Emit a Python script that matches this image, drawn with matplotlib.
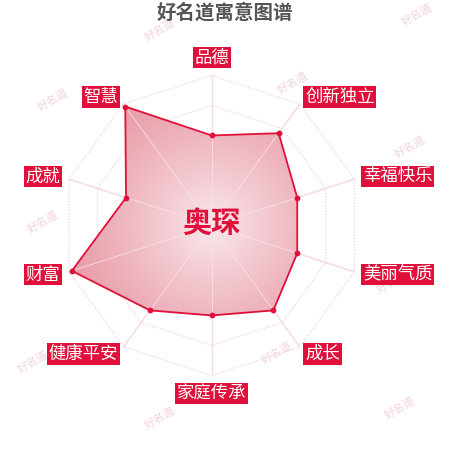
import numpy as np
import matplotlib
matplotlib.use("Agg")
import matplotlib.pyplot as plt
from matplotlib.colors import LinearSegmentedColormap
from matplotlib.patches import Polygon

plt.rcParams['font.family'] = ['Noto Sans CJK SC', 'DejaVu Sans']

# 数据
categories = ['品德', '创新独立', '幸福快乐', '美丽气质', '成长',
              '家庭传承', '健康平安', '财富', '成就', '智慧']
values = [60, 76, 60, 60, 70, 60, 70, 98, 60, 98]
name = '奥琛'
title = '好名道寓意图谱'
watermark = '好名道'
rings = [20, 40, 60, 80, 100]

RED = '#e0103a'
n = len(categories)
theta = np.pi / 2 - np.arange(n) * 2 * np.pi / n
vals = np.array(values, dtype=float)

fig = plt.figure(figsize=(4.5, 4.5), dpi=100)
ax = fig.add_axes([0, 0, 1, 1])
ax.set_xlim(-141.1, 158.9)
ax.set_ylim(-149.7, 150.3)
ax.set_aspect('equal')
ax.axis('off')

# 网格
for r in rings:
    gx = np.append(r * np.cos(theta), r * np.cos(theta[0]))
    gy = np.append(r * np.sin(theta), r * np.sin(theta[0]))
    ax.plot(gx, gy, color='#efc6cd', lw=0.8, ls=':', zorder=1)
for t in theta:
    ax.plot([0, 100 * np.cos(t)], [0, 100 * np.sin(t)], color='#f1d3d8', lw=1, zorder=1)

# 渐变填充
px = vals * np.cos(theta)
py = vals * np.sin(theta)
cmap = LinearSegmentedColormap.from_list('pk', [(0, '#f8e9ec'), (0.3, '#f4cdd4'),
                                                (0.65, '#eeb2bc'), (1, '#e899a6')])
g = np.linspace(-100, 100, 400)
X, Y = np.meshgrid(g, g)
R = np.clip(np.hypot(X, Y) / 100, 0, 1)
im = ax.imshow(R, extent=(-100, 100, -100, 100), origin='lower', cmap=cmap,
               vmin=0, vmax=1, zorder=2, interpolation='bilinear')
poly = Polygon(np.column_stack([px, py]), closed=True, fc='none', ec='none')
ax.add_patch(poly)
im.set_clip_path(poly)

for t in theta:
    ax.plot([0, 100 * np.cos(t)], [0, 100 * np.sin(t)], color='#f9e4e8', lw=0.8,
            alpha=0.7, zorder=3)

ax.plot(np.append(px, px[0]), np.append(py, py[0]), color=RED, lw=1.3, zorder=4)
ax.scatter(px, py, s=10, color=RED, zorder=5)

# 标签
lr = 106
for i, (lab, t) in enumerate(zip(categories, theta)):
    lx, ly = lr * np.cos(t), lr * np.sin(t)
    if i == 0:
        ha, va = 'center', 'bottom'
    elif i == n // 2:
        ha, va = 'center', 'top'
    elif i < n // 2:
        ha, va = 'left', 'center'
    else:
        ha, va = 'right', 'center'
    ax.text(lx, ly, lab, ha=ha, va=va, color='white', fontsize=12.5,
            bbox=dict(boxstyle='square,pad=0.1', fc=RED, ec='none'), zorder=6)

ax.text(0, 2, name, ha='center', va='center', color=RED, fontsize=21,
        fontweight='bold', zorder=6)

fig.text(0.5, 0.972, title, ha='center', va='center', color='#555555',
         fontsize=14, fontweight='bold')

# 水印
wm_pos = [(160, 30), (417, 15), (53, 100), (293, 83), (410, 147), (43, 222),
          (392, 282), (277, 353), (33, 362), (160, 418), (400, 408)]
for wx, wy in wm_pos:
    fig.text(wx / 450, 1 - wy / 450, watermark, ha='center', va='center',
             rotation=30, color='#f2d3d8', fontsize=8, zorder=-1)

fig.savefig('out.png', dpi=100)
